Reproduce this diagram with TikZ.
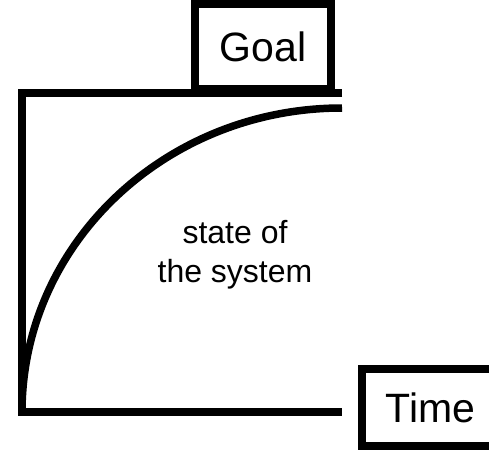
\documentclass[tikz,border=0pt]{standalone}
\usepackage{fontspec}
\setmainfont{Liberation Sans}
\usepackage{tikz}
\usetikzlibrary{positioning}

\begin{document}
\begin{tikzpicture}[
    x=1pt, y=1pt,
    box/.style={rectangle, draw, line width=8pt, inner sep=0pt, font=\fontsize{41}{48}\selectfont},
    axis/.style={line width=8pt, line join=miter},
    curve/.style={line width=7.5pt}
]
    \useasboundingbox (0,0) rectangle (489,451);

    \coordinate (origin) at (22,39);
    \coordinate (ytop) at (22,358.5);
    \coordinate (goalend) at (342,358.5);
    \coordinate (timeend) at (342,39);

    \node[box, anchor=south, minimum width=136pt, minimum height=84pt] (goal) at (263,358.5) {Goal};
    \node[box, anchor=west, minimum height=77pt] (time) at (358,43.5) {\makebox[137pt]{Time}\hspace*{23pt}};
    \node[align=center, font=\fontsize{32}{39}\selectfont] (state) at (235,196.5) {state of\\the system};

    \draw[axis] (goalend) -- (ytop) -- (origin) -- (timeend);
    \draw[curve] (origin) arc[start angle=180, end angle=90, x radius=320, y radius=304];
\end{tikzpicture}
\end{document}
